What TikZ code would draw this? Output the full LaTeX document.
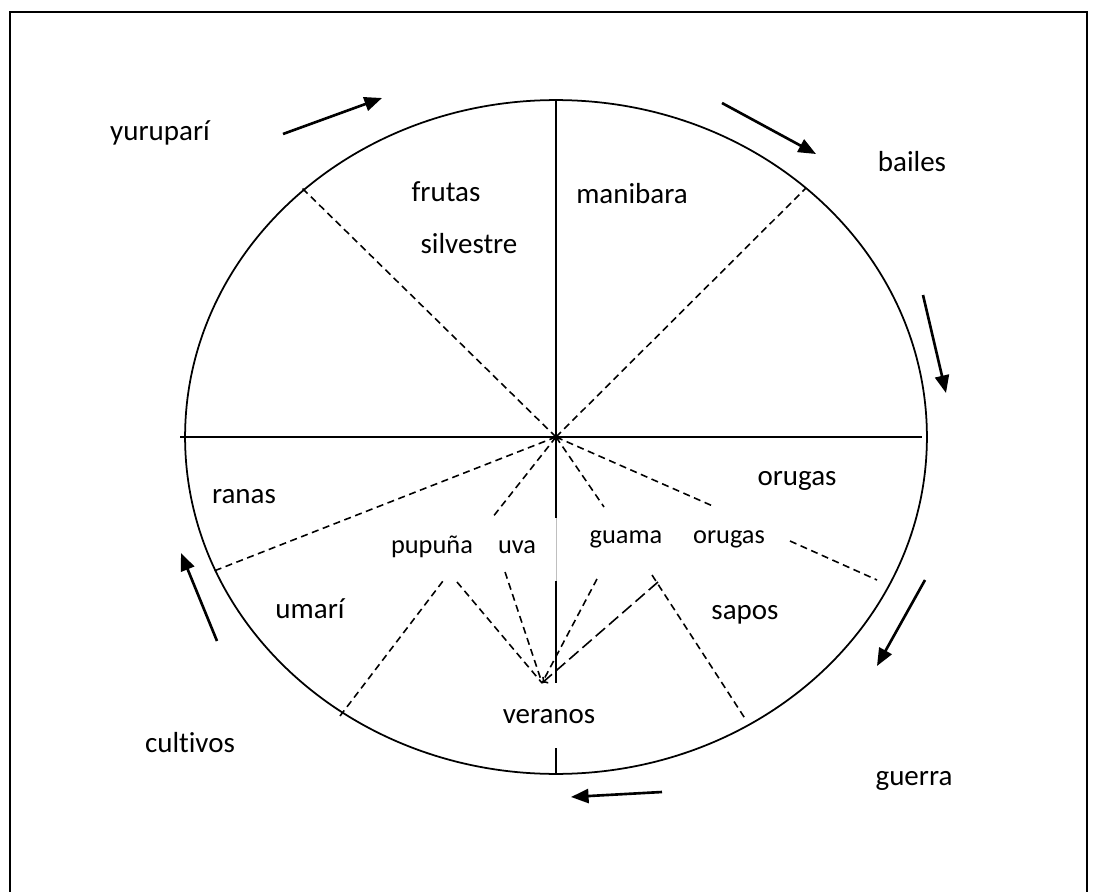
\documentclass[tikz,border=0pt]{standalone}
\usepackage{fontspec}
\setmainfont{Carlito}[Ligatures=NoCommon]
\usetikzlibrary{arrows.meta}

\begin{document}
\begin{tikzpicture}[x=0.02cm,y=-0.02cm,line width=1pt]
  \tikzset{
    lbl/.style={anchor=base,inner sep=0pt,font=\fontsize{16.5}{19}\selectfont},
    sml/.style={lbl,font=\fontsize{15}{18}\selectfont},
    div/.style={line width=.9pt,dash pattern=on 4pt off 2.6pt},
    turn/.style={-{Triangle[length=10pt,width=8pt]},line width=1.5pt}
  }
  \useasboundingbox (0,0) rectangle (1096,892);

  % frame
  \draw[line width=1.5pt] (10,892) -- (10,12) -- (1087,12) -- (1087,892);

  % wheel
  \coordinate (c) at (556,437);
  \draw (c) ellipse [x radius=7.42cm, y radius=6.74cm];
  \draw (180,437) -- (922,437);
  \coordinate (top) at (556,100);
  \coordinate (v1) at (556,518);
  \coordinate (v2) at (556,581);
  \coordinate (v3) at (556,683);
  \coordinate (v4) at (556,748);
  \coordinate (bot) at (556,774);
  \draw (top) -- (v1);
  \draw[gray!50,line width=.5pt] (v1) -- (v2);
  \draw (v2) -- (v3);
  \draw (v4) -- (bot);

  % dashed divisions
  \coordinate (ul) at (302,188);
  \coordinate (ur) at (806,188);
  \coordinate (ll) at (214,571);
  \coordinate (p1) at (492,518);
  \coordinate (p2) at (604,507);
  \coordinate (p3) at (715,507);
  \foreach \e in {ul,ur,ll,p1,p2,p3}
    \draw[div] (c) -- (\e);
  \coordinate (o1) at (790,541);
  \coordinate (o2) at (877,580);
  \draw[div] (o1) -- (o2);

  \coordinate (m) at (542,683);
  \coordinate (a1) at (340,716);
  \coordinate (a2) at (443,581);
  \coordinate (a3) at (457,582);
  \coordinate (a4) at (505,572);
  \coordinate (a5) at (597,579);
  \coordinate (a6) at (658,582);
  \coordinate (a7) at (652,575);
  \coordinate (a8) at (746,720);
  \draw[div] (a1) -- (a2);
  \foreach \s in {a3,a4,a5}
    \draw[div] (\s) -- (m);
  \draw[line width=.9pt,dash pattern=on 7pt off 3pt,-{To[length=3pt,width=5pt]}] (a6) -- (m);
  \draw[div] (a7) -- (a8);

  % labels
  \node[lbl] (yurupari) at (160,141) {yuruparí};
  \node[lbl] (frutas) at (446,201) {frutas};
  \node[lbl] (silvestre) at (469,254) {silvestre};
  \node[lbl] (manibara) at (632,203) {manibara};
  \node[lbl] (bailes) at (912,172) {bailes};
  \node[lbl] (ranas) at (244,503) {ranas};
  \node[lbl] (orugasA) at (797,485) {orugas};
  \node[sml] (pupuna) at (432,553) {pupuña};
  \node[sml] (uva) at (517,553) {uva};
  \node[sml] (guama) at (626,543) {guama};
  \node[sml] (orugasB) at (729,543) {orugas};
  \node[lbl] (umari) at (310,618) {umarí};
  \node[lbl] (sapos) at (745,619) {sapos};
  \node[lbl] (veranos) at (549,723) {veranos};
  \node[lbl] (cultivos) at (190,752) {cultivos};
  \node[lbl] (guerra) at (914,785) {guerra};

  % cycle arrows
  \coordinate (t1) at (283,134);  \coordinate (h1) at (382,98);
  \coordinate (t2) at (722,103);  \coordinate (h2) at (816,154);
  \coordinate (t3) at (923,295);  \coordinate (h3) at (946,393);
  \coordinate (t4) at (925,580);  \coordinate (h4) at (877,666);
  \coordinate (t5) at (662,792);  \coordinate (h5) at (571,797);
  \coordinate (t6) at (217,641);  \coordinate (h6) at (181,553);
  \foreach \i in {1,...,6}
    \draw[turn] (t\i) -- (h\i);
\end{tikzpicture}
\end{document}
